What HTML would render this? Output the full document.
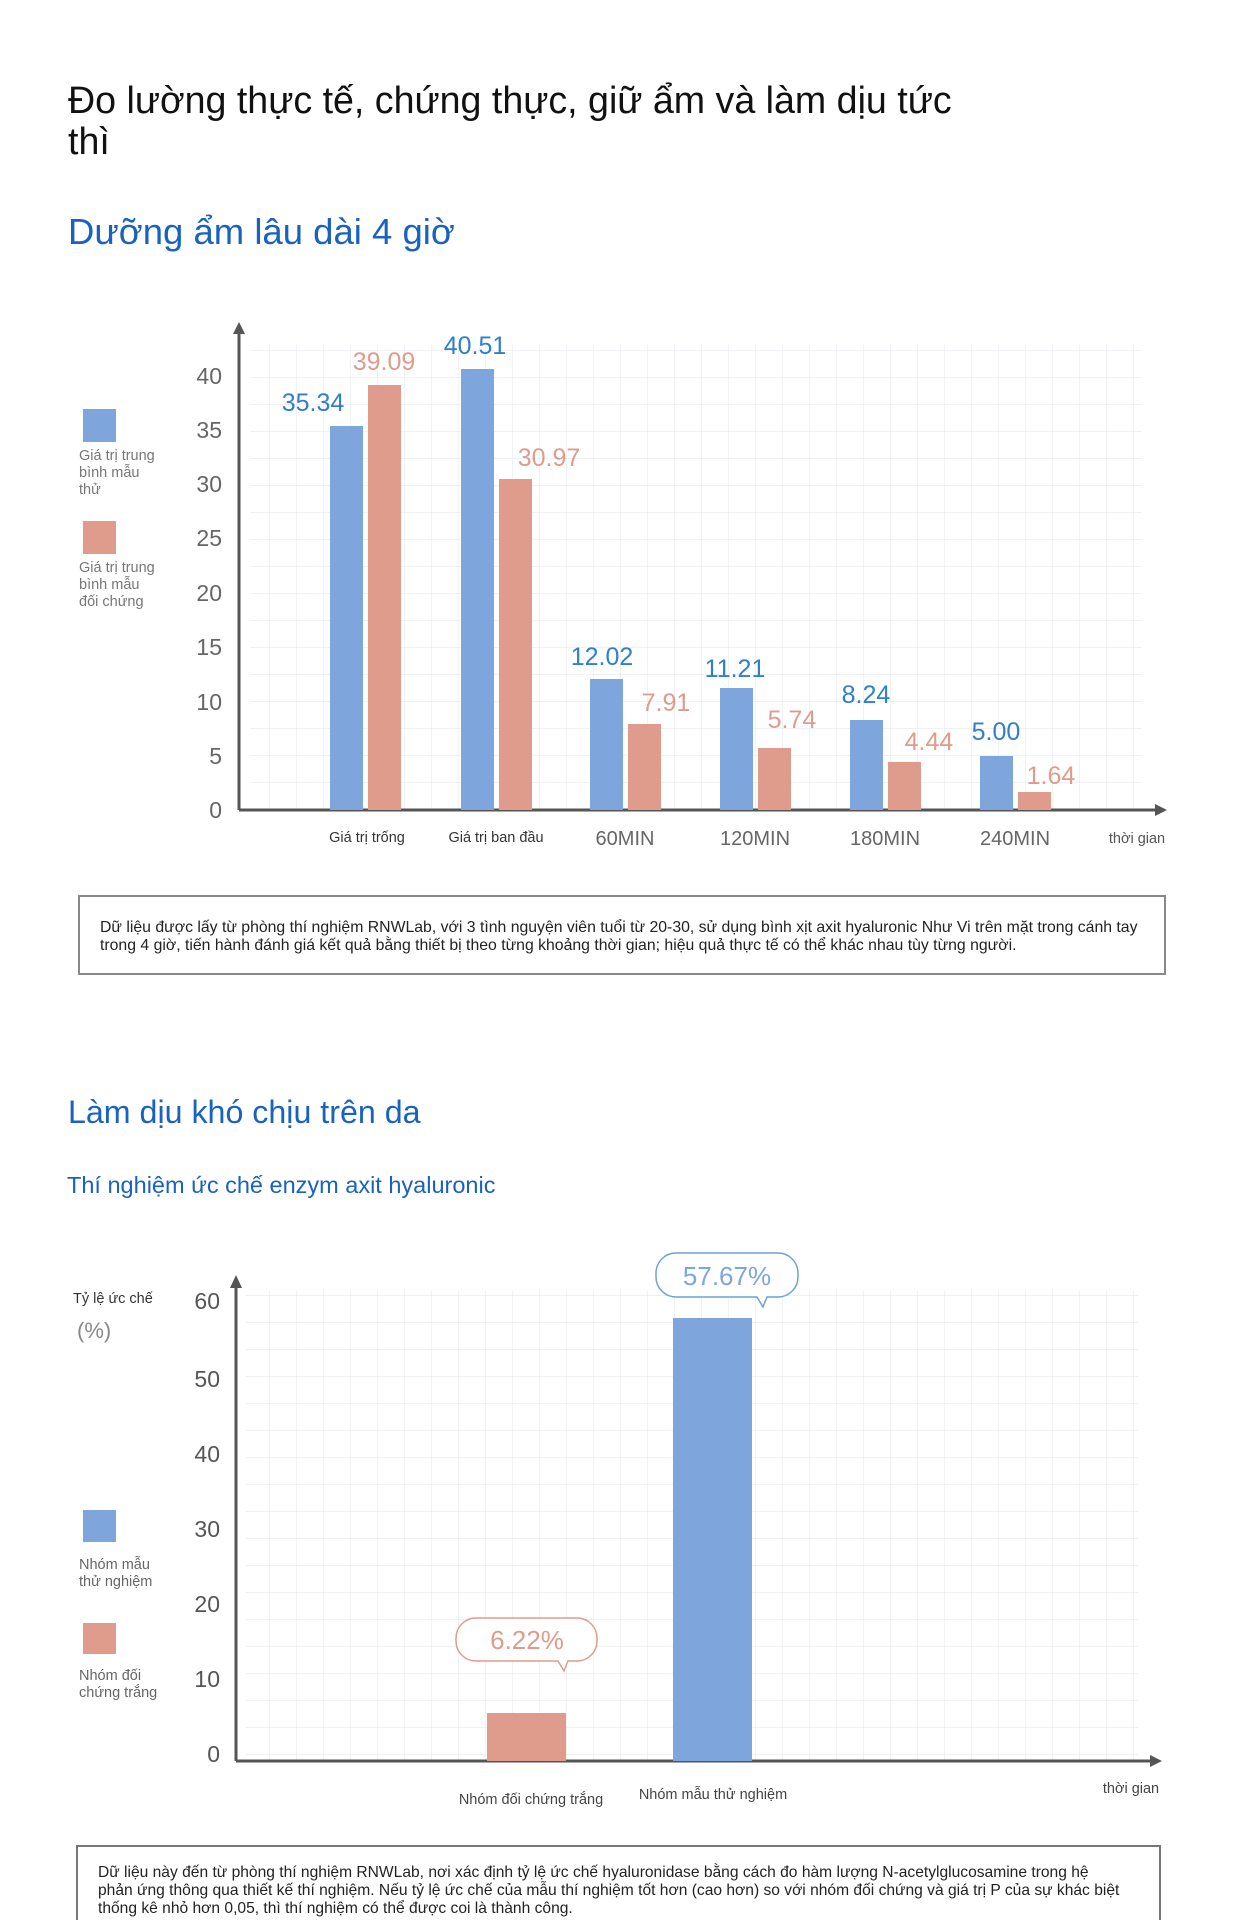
<!DOCTYPE html>
<html><head><meta charset="utf-8"><style>
html,body{margin:0;padding:0;background:#fff}
svg{display:block}
text{font-family:"Liberation Sans",sans-serif}
</style></head><body>
<svg width="1240" height="1920" viewBox="0 0 1240 1920" xmlns="http://www.w3.org/2000/svg">
<defs>
<pattern id="g" width="27" height="27" patternUnits="userSpaceOnUse"><path d="M27 0V27M0 27H27" stroke="#e6e8ef" stroke-width="1.2" fill="none"/></pattern>
</defs>
<rect width="1240" height="1920" fill="#fff"/>
<text x="68" y="113" font-size="37.6" fill="#111">Đo lường thực tế, chứng thực, giữ ẩm và làm dịu tức</text>
<text x="68" y="154" font-size="37.6" fill="#111">thì</text>
<text x="68" y="244" font-size="36.5" fill="#1a62c0">Dưỡng ẩm lâu dài 4 giờ</text>

<!-- chart 1 -->
<rect x="250" y="345" width="892" height="465" fill="url(#g)"/>
<line x1="239" y1="810" x2="1160" y2="810" stroke="#555" stroke-width="3"/>
<polygon points="1167,810 1155,804 1155,816" fill="#555"/>
<line x1="239" y1="810" x2="239" y2="330" stroke="#555" stroke-width="3"/>
<polygon points="239,322 233,334 245,334" fill="#555"/>
<g font-size="23" fill="#666" text-anchor="end">
<text x="222" y="384">40</text><text x="222" y="438">35</text><text x="222" y="492">30</text><text x="222" y="546">25</text><text x="222" y="601">20</text><text x="222" y="655">15</text><text x="222" y="710">10</text><text x="222" y="764">5</text><text x="222" y="818">0</text>
</g>
<rect x="83" y="409" width="33" height="33" fill="#7ea6dc"/>
<text font-size="14.5" fill="#777"><tspan x="79" y="460">Giá trị trung</tspan><tspan x="79" y="477">bình mẫu</tspan><tspan x="79" y="494">thử</tspan></text>
<rect x="83" y="521" width="33" height="33" fill="#df9c8c"/>
<text font-size="14.5" fill="#777"><tspan x="79" y="572">Giá trị trung</tspan><tspan x="79" y="589">bình mẫu</tspan><tspan x="79" y="606">đối chứng</tspan></text>

<g fill="#7ea6dc">
<rect x="330" y="426" width="33" height="384"/>
<rect x="461" y="369" width="33" height="441"/>
<rect x="590" y="679" width="33" height="131"/>
<rect x="720" y="688" width="33" height="122"/>
<rect x="850" y="720" width="33" height="90"/>
<rect x="980" y="756" width="33" height="54"/>
</g>
<g fill="#df9c8c">
<rect x="368" y="385" width="33" height="425"/>
<rect x="499" y="479" width="33" height="331"/>
<rect x="628" y="724" width="33" height="86"/>
<rect x="758" y="748" width="33" height="62"/>
<rect x="888" y="762" width="33" height="48"/>
<rect x="1018" y="792" width="33" height="18"/>
</g>
<g font-size="25" fill="#2f7fcc" text-anchor="middle">
<text x="313" y="411">35.34</text><text x="475" y="354">40.51</text><text x="602" y="665">12.02</text><text x="735" y="677">11.21</text><text x="866" y="703">8.24</text><text x="996" y="740">5.00</text>
</g>
<g font-size="25" fill="#df9c8c" text-anchor="middle">
<text x="384" y="370">39.09</text><text x="549" y="466">30.97</text><text x="666" y="711">7.91</text><text x="792" y="728">5.74</text><text x="929" y="750">4.44</text><text x="1051" y="784">1.64</text>
</g>
<g font-size="14.5" fill="#333" text-anchor="middle">
<text x="367" y="842">Giá trị trống</text><text x="496" y="842">Giá trị ban đầu</text>
</g>
<g font-size="20" fill="#666" text-anchor="middle">
<text x="625" y="845">60MIN</text><text x="755" y="845">120MIN</text><text x="885" y="845">180MIN</text><text x="1015" y="845">240MIN</text>
</g>
<text x="1137" y="843" font-size="14.5" fill="#555" text-anchor="middle">thời gian</text>

<rect x="79" y="896" width="1086" height="78" fill="none" stroke="#888" stroke-width="2"/>
<text font-size="15.8" fill="#222"><tspan x="100" y="932">Dữ liệu được lấy từ phòng thí nghiệm RNWLab, với 3 tình nguyện viên tuổi từ 20-30, sử dụng bình xịt axit hyaluronic Như Vi trên mặt trong cánh tay</tspan><tspan x="100" y="950">trong 4 giờ, tiến hành đánh giá kết quả bằng thiết bị theo từng khoảng thời gian; hiệu quả thực tế có thể khác nhau tùy từng người.</tspan></text>

<text x="68" y="1123" font-size="32.2" fill="#1a62c0">Làm dịu khó chịu trên da</text>
<text x="67" y="1193" font-size="23.5" fill="#1a62c0">Thí nghiệm ức chế enzym axit hyaluronic</text>

<!-- chart 2 -->
<rect x="246" y="1290" width="892" height="471" fill="url(#g)"/>
<line x1="236" y1="1761" x2="1155" y2="1761" stroke="#555" stroke-width="3"/>
<polygon points="1162,1761 1150,1755 1150,1767" fill="#555"/>
<line x1="236" y1="1761" x2="236" y2="1285" stroke="#555" stroke-width="3"/>
<polygon points="236,1275 230,1288 242,1288" fill="#555"/>
<g font-size="23" fill="#555" text-anchor="end">
<text x="220" y="1309">60</text><text x="220" y="1387">50</text><text x="220" y="1462">40</text><text x="220" y="1537">30</text><text x="220" y="1612">20</text><text x="220" y="1687">10</text><text x="220" y="1762">0</text>
</g>
<text x="73" y="1303" font-size="14.5" fill="#333">Tỷ lệ ức chế</text>
<text x="77" y="1338" font-size="22" fill="#888">(%)</text>
<rect x="83" y="1510" width="33" height="32" fill="#7ea6dc"/>
<text font-size="14.5" fill="#666"><tspan x="79" y="1569">Nhóm mẫu</tspan><tspan x="79" y="1586">thử nghiệm</tspan></text>
<rect x="83" y="1623" width="33" height="31" fill="#df9c8c"/>
<text font-size="14.5" fill="#666"><tspan x="79" y="1680">Nhóm đối</tspan><tspan x="79" y="1697">chứng trắng</tspan></text>

<rect x="487" y="1713" width="79" height="48" fill="#df9c8c"/>
<rect x="673" y="1318" width="79" height="443" fill="#7ea6dc"/>

<path d="M676 1253 H778 a20 20 0 0 1 20 20 V1277 a20 20 0 0 1 -20 20 H767 L763 1307 L757 1297 H676 a20 20 0 0 1 -20 -20 V1273 a20 20 0 0 1 20 -20Z" fill="#fff" stroke="#6fa0d8" stroke-width="1.5"/>
<text x="727" y="1285" font-size="26" fill="#7ea6dc" text-anchor="middle">57.67%</text>
<path d="M476 1618 H577 a20 20 0 0 1 20 20 V1641 a20 20 0 0 1 -20 20 H568 L564 1671 L558 1661 H476 a20 20 0 0 1 -20 -20 V1638 a20 20 0 0 1 20 -20Z" fill="#fff" stroke="#df9c8c" stroke-width="1.5"/>
<text x="527" y="1649" font-size="26" fill="#df9c8c" text-anchor="middle">6.22%</text>

<text x="531" y="1804" font-size="14.5" fill="#444" text-anchor="middle">Nhóm đối chứng trắng</text>
<text x="713" y="1799" font-size="14.5" fill="#444" text-anchor="middle">Nhóm mẫu thử nghiệm</text>
<text x="1131" y="1793" font-size="14.5" fill="#444" text-anchor="middle">thời gian</text>

<rect x="77" y="1846" width="1083" height="90" fill="none" stroke="#777" stroke-width="2"/>
<text font-size="15.6" fill="#222"><tspan x="98" y="1877">Dữ liệu này đến từ phòng thí nghiệm RNWLab, nơi xác định tỷ lệ ức chế hyaluronidase bằng cách đo hàm lượng N-acetylglucosamine trong hệ</tspan><tspan x="98" y="1895">phản ứng thông qua thiết kế thí nghiệm. Nếu tỷ lệ ức chế của mẫu thí nghiệm tốt hơn (cao hơn) so với nhóm đối chứng và giá trị P của sự khác biệt</tspan><tspan x="98" y="1913">thống kê nhỏ hơn 0,05, thì thí nghiệm có thể được coi là thành công.</tspan></text>
</svg>
</body></html>
